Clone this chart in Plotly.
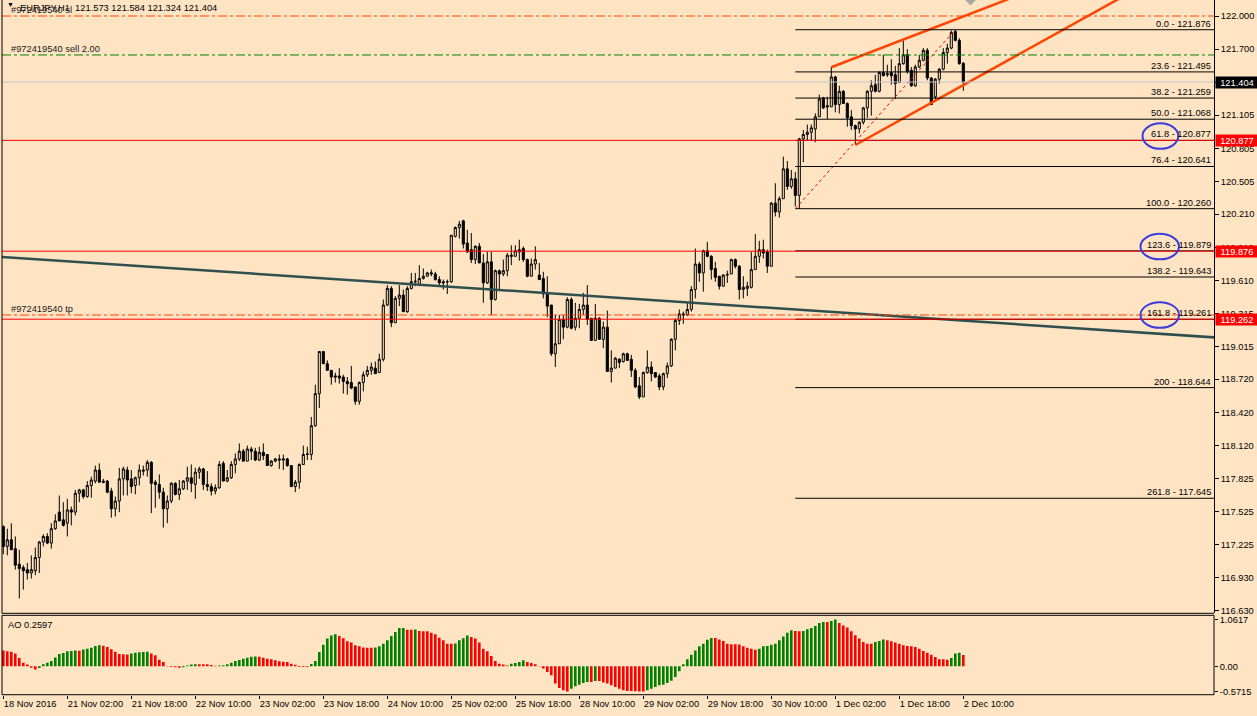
import plotly.graph_objects as go

BG = "#FFE4C4"

# ---------------- data (EURJPY H1, bar index 0..240) ----------------
opens = [
    117.39, 117.21, 117.27, 117.19, 117.05, 117.02, 117.00, 116.97, 116.99, 117.11,
    117.25, 117.30, 117.24, 117.37, 117.52, 117.45, 117.42, 117.54, 117.52, 117.69,
    117.72, 117.66, 117.76, 117.80, 117.90, 117.80, 117.80, 117.71, 117.55, 117.62,
    117.82, 117.90, 117.82, 117.76, 117.83, 117.90, 117.90, 117.97, 117.79, 117.77,
    117.70, 117.55, 117.62, 117.78, 117.68, 117.73, 117.80, 117.83, 117.77, 117.88,
    117.91, 117.77, 117.75, 117.71, 117.74, 117.96, 117.80, 117.83, 117.95, 118.00,
    118.07, 117.98, 118.09, 118.07, 117.99, 118.06, 118.04, 117.94, 117.98, 118.00,
    117.99, 118.00, 117.94, 117.75, 117.79, 117.95, 118.04, 118.04, 118.30, 118.59,
    118.97, 118.86, 118.80, 118.75, 118.75, 118.74, 118.70, 118.69, 118.65, 118.52,
    118.69, 118.76, 118.80, 118.82, 118.78, 118.90, 119.39, 119.54, 119.23, 119.45,
    119.48, 119.33, 119.54, 119.60, 119.57, 119.63, 119.65, 119.67, 119.67, 119.62,
    119.60, 119.60, 119.60, 120.01, 120.09, 120.15, 119.95, 119.89, 119.80, 119.92,
    119.77, 119.59, 119.78, 119.44, 119.70, 119.67, 119.70, 119.84, 119.83, 119.87,
    119.90, 119.80, 119.65, 119.76, 119.66, 119.63, 119.50, 119.39, 118.95, 119.04,
    119.26, 119.19, 119.44, 119.19, 119.27, 119.35, 119.39, 119.27, 119.07, 119.27,
    119.08, 119.19, 118.79, 118.82, 118.90, 118.88, 118.95, 118.90, 118.80, 118.66,
    118.56, 118.78, 118.83, 118.78, 118.75, 118.65, 118.77, 118.84, 119.08, 119.25,
    119.31, 119.30, 119.35, 119.53, 119.76, 119.68, 119.88, 119.83, 119.72, 119.65,
    119.56, 119.66, 119.67, 119.80, 119.74, 119.53, 119.54, 119.55, 119.71, 119.83,
    119.89, 119.87, 119.74, 120.31, 120.23, 120.35, 120.62, 120.46, 120.53, 120.38,
    120.89, 120.93, 120.95, 120.98, 121.09, 121.26, 121.19, 121.18, 121.45, 121.20,
    121.32, 121.21, 121.09, 121.01, 120.98, 121.04, 121.17, 121.32, 121.38, 121.32,
    121.49, 121.47, 121.49, 121.47, 121.40, 121.57, 121.65, 121.51, 121.37, 121.54,
    121.60, 121.69, 121.44, 121.27, 121.43, 121.52, 121.67, 121.71, 121.86, 121.78,
    121.573,
]
highs = [
    117.40, 117.37, 117.42, 117.30, 117.18, 117.04, 117.06, 117.13, 117.20, 117.26,
    117.32, 117.33, 117.42, 117.50, 117.67, 117.61, 117.64, 117.57, 117.72, 117.73,
    117.73, 117.80, 117.84, 117.94, 117.96, 117.82, 117.81, 117.74, 117.66, 117.92,
    117.93, 117.93, 117.90, 117.84, 117.95, 117.94, 117.99, 117.98, 117.81, 117.86,
    117.74, 117.67, 117.79, 117.79, 117.81, 117.81, 117.93, 117.95, 117.92, 117.93,
    117.92, 117.89, 117.78, 117.77, 117.98, 117.98, 117.90, 117.98, 118.05, 118.14,
    118.09, 118.12, 118.11, 118.10, 118.11, 118.14, 118.04, 117.99, 118.01, 118.04,
    118.04, 118.01, 117.94, 117.81, 117.96, 118.12, 118.11, 118.38, 118.67, 118.97,
    118.97, 118.89, 118.80, 118.78, 118.82, 118.76, 118.74, 118.84, 118.65, 118.70,
    118.79, 118.84, 118.87, 118.88, 118.95, 119.44, 119.57, 119.56, 119.47, 119.57,
    119.53, 119.56, 119.68, 119.68, 119.75, 119.72, 119.69, 119.71, 119.69, 119.65,
    119.62, 119.62, 120.02, 120.10, 120.15, 120.16, 120.07, 120.04, 119.93, 119.95,
    119.85, 119.87, 119.87, 119.71, 119.71, 119.80, 119.86, 119.93, 119.93, 119.98,
    119.92, 119.81, 119.81, 119.92, 119.77, 119.69, 119.65, 119.39, 119.30, 119.30,
    119.30, 119.46, 119.46, 119.41, 119.40, 119.50, 119.57, 119.27, 119.40, 119.28,
    119.24, 119.34, 118.98, 118.92, 118.91, 118.96, 118.96, 118.94, 118.82, 118.74,
    118.79, 118.98, 118.88, 118.78, 118.77, 118.78, 118.87, 119.09, 119.27, 119.35,
    119.33, 119.41, 119.56, 119.90, 119.78, 119.89, 119.96, 119.84, 119.78, 119.65,
    119.67, 119.70, 119.81, 119.81, 119.75, 119.65, 119.60, 119.87, 120.03, 119.97,
    119.98, 119.89, 120.32, 120.49, 120.37, 120.73, 120.69, 120.61, 120.59, 120.90,
    120.97, 121.02, 121.02, 121.12, 121.29, 121.27, 121.27, 121.54, 121.46, 121.37,
    121.33, 121.22, 121.15, 121.02, 121.05, 121.18, 121.33, 121.42, 121.47, 121.50,
    121.65, 121.56, 121.61, 121.55, 121.71, 121.78, 121.70, 121.54, 121.56, 121.65,
    121.71, 121.71, 121.45, 121.44, 121.53, 121.71, 121.75, 121.87, 121.876, 121.80,
    121.584,
]
lows = [
    117.14, 117.13, 117.18, 117.00, 116.74, 116.82, 116.91, 116.92, 116.95, 116.97,
    117.21, 117.23, 117.19, 117.36, 117.44, 117.39, 117.30, 117.40, 117.49, 117.61,
    117.64, 117.65, 117.65, 117.78, 117.79, 117.78, 117.69, 117.47, 117.48, 117.52,
    117.67, 117.67, 117.69, 117.68, 117.76, 117.85, 117.84, 117.51, 117.56, 117.64,
    117.38, 117.42, 117.60, 117.67, 117.63, 117.72, 117.72, 117.70, 117.64, 117.82,
    117.72, 117.71, 117.67, 117.68, 117.73, 117.80, 117.79, 117.82, 117.87, 117.98,
    117.98, 117.98, 117.99, 117.98, 117.98, 117.99, 117.94, 117.93, 117.97, 117.91,
    117.90, 117.93, 117.75, 117.70, 117.73, 117.95, 117.99, 117.99, 118.29, 118.46,
    118.86, 118.80, 118.67, 118.69, 118.68, 118.59, 118.58, 118.63, 118.49, 118.49,
    118.61, 118.74, 118.76, 118.77, 118.78, 118.88, 119.38, 119.19, 119.23, 119.38,
    119.33, 119.32, 119.53, 119.56, 119.56, 119.62, 119.65, 119.65, 119.61, 119.56,
    119.53, 119.49, 119.59, 120.00, 119.99, 119.90, 119.86, 119.77, 119.76, 119.77,
    119.41, 119.58, 119.30, 119.43, 119.53, 119.65, 119.65, 119.75, 119.83, 119.79,
    119.78, 119.64, 119.65, 119.71, 119.62, 119.45, 119.28, 118.93, 118.83, 119.04,
    119.08, 119.18, 119.17, 119.16, 119.18, 119.30, 119.21, 119.07, 119.07, 119.08,
    119.00, 118.79, 118.69, 118.82, 118.82, 118.87, 118.89, 118.74, 118.64, 118.54,
    118.56, 118.77, 118.70, 118.73, 118.62, 118.62, 118.73, 118.83, 118.98, 119.21,
    119.22, 119.29, 119.33, 119.45, 119.60, 119.51, 119.82, 119.62, 119.60, 119.53,
    119.56, 119.59, 119.67, 119.72, 119.44, 119.45, 119.47, 119.54, 119.71, 119.77,
    119.81, 119.68, 119.74, 120.19, 120.18, 120.35, 120.43, 120.44, 120.28, 120.26,
    120.68, 120.88, 120.87, 120.86, 121.09, 121.16, 121.07, 121.18, 121.13, 121.12,
    121.21, 121.00, 120.97, 120.84, 120.94, 121.02, 121.08, 121.10, 121.31, 121.31,
    121.46, 121.45, 121.38, 121.25, 121.40, 121.56, 121.48, 121.36, 121.36, 121.53,
    121.59, 121.42, 121.20, 121.23, 121.39, 121.51, 121.57, 121.70, 121.77, 121.56,
    121.324,
]
closes = [
    117.21, 117.27, 117.18, 117.04, 117.01, 116.99, 116.97, 117.00, 117.11, 117.25,
    117.30, 117.24, 117.37, 117.44, 117.44, 117.40, 117.54, 117.52, 117.69, 117.72,
    117.66, 117.76, 117.81, 117.90, 117.79, 117.79, 117.70, 117.55, 117.62, 117.82,
    117.91, 117.81, 117.75, 117.83, 117.90, 117.89, 117.97, 117.78, 117.77, 117.70,
    117.55, 117.62, 117.78, 117.68, 117.73, 117.80, 117.83, 117.78, 117.88, 117.91,
    117.77, 117.75, 117.71, 117.74, 117.95, 117.80, 117.83, 117.95, 118.00, 118.07,
    117.98, 118.09, 118.07, 117.99, 118.06, 118.03, 117.94, 117.98, 118.00, 117.99,
    118.00, 117.94, 117.75, 117.79, 117.95, 118.04, 118.045, 118.30, 118.59, 118.97,
    118.86, 118.80, 118.74, 118.74, 118.73, 118.70, 118.68, 118.64, 118.52, 118.69,
    118.76, 118.80, 118.83, 118.77, 118.90, 119.39, 119.54, 119.23, 119.45, 119.48,
    119.33, 119.54, 119.60, 119.605, 119.63, 119.65, 119.68, 119.68, 119.62, 119.59,
    119.59, 119.60, 120.02, 120.09, 120.12, 119.94, 119.87, 119.80, 119.92, 119.77,
    119.59, 119.78, 119.44, 119.70, 119.67, 119.70, 119.84, 119.83, 119.88, 119.89,
    119.80, 119.65, 119.76, 119.80, 119.62, 119.49, 119.38, 118.95, 119.04, 119.26,
    119.19, 119.44, 119.18, 119.27, 119.35, 119.39, 119.26, 119.07, 119.27, 119.08,
    119.19, 118.79, 118.82, 118.91, 118.87, 118.95, 118.89, 118.80, 118.65, 118.56,
    118.78, 118.83, 118.77, 118.74, 118.65, 118.77, 118.84, 119.08, 119.25, 119.31,
    119.30, 119.35, 119.53, 119.76, 119.68, 119.88, 119.83, 119.71, 119.64, 119.56,
    119.66, 119.665, 119.80, 119.74, 119.53, 119.55, 119.56, 119.71, 119.83, 119.89,
    119.86, 119.74, 120.31, 120.23, 120.35, 120.62, 120.46, 120.53, 120.38, 120.89,
    120.93, 120.95, 120.99, 121.09, 121.25, 121.17, 121.18, 121.45, 121.20, 121.32,
    121.21, 121.08, 121.01, 120.98, 121.04, 121.17, 121.32, 121.37, 121.32, 121.49,
    121.46, 121.48, 121.46, 121.39, 121.57, 121.65, 121.50, 121.37, 121.54, 121.60,
    121.69, 121.44, 121.20, 121.43, 121.52, 121.67, 121.71, 121.85, 121.78, 121.57,
    121.404,
]
# Awesome Oscillator values
ao = [
    0.36, 0.34, 0.33, 0.29, 0.19, 0.08, 0.04, -0.03, -0.07, -0.04,
    0.05, 0.08, 0.12, 0.20, 0.28, 0.30, 0.34, 0.35, 0.36, 0.355,
    0.38, 0.40, 0.42, 0.46, 0.48, 0.47, 0.44, 0.39, 0.33, 0.28,
    0.275, 0.27, 0.29, 0.31, 0.32, 0.325, 0.33, 0.29, 0.25, 0.15,
    0.10, -0.005, -0.015, -0.02, -0.03, -0.02, 0.02, 0.04, 0.05, 0.049,
    0.048, 0.046, 0.03, 0.015, 0.02, 0.025, 0.045, 0.083, 0.12, 0.144,
    0.174, 0.197, 0.22, 0.222, 0.218, 0.197, 0.174, 0.159, 0.136, 0.114,
    0.106, 0.098, 0.06, 0.038, -0.015, -0.016, -0.017, 0.053, 0.12, 0.326,
    0.49, 0.63, 0.70, 0.727, 0.69, 0.64, 0.57, 0.54, 0.48, 0.455,
    0.425, 0.424, 0.423, 0.426, 0.455, 0.51, 0.59, 0.69, 0.78, 0.87,
    0.872, 0.833, 0.832, 0.835, 0.80, 0.799, 0.798, 0.765, 0.727, 0.65,
    0.59, 0.515, 0.513, 0.516, 0.59, 0.64, 0.70, 0.667, 0.63, 0.54,
    0.40, 0.34, 0.235, 0.12, 0.06, 0.04, 0.02, 0.06, 0.076, 0.10,
    0.136, 0.10, 0.076, 0.045, 0.008, -0.05, -0.13, -0.20, -0.39, -0.49,
    -0.545, -0.5715, -0.51, -0.45, -0.42, -0.38, -0.356, -0.358, -0.333, -0.334,
    -0.37, -0.39, -0.43, -0.47, -0.51, -0.545, -0.56, -0.561, -0.565, -0.57,
    -0.571, -0.545, -0.51, -0.47, -0.43, -0.42, -0.38, -0.33, -0.24, -0.11,
    0.05, 0.16, 0.265, 0.36, 0.455, 0.515, 0.606, 0.644, 0.643, 0.61,
    0.575, 0.515, 0.50, 0.499, 0.498, 0.455, 0.424, 0.40, 0.379, 0.40,
    0.455, 0.46, 0.49, 0.515, 0.59, 0.68, 0.765, 0.82, 0.80, 0.799,
    0.801, 0.84, 0.87, 0.917, 0.985, 1.008, 1.007, 1.03, 1.0617, 0.985,
    0.93, 0.88, 0.795, 0.705, 0.63, 0.553, 0.515, 0.514, 0.553, 0.575,
    0.61, 0.59, 0.57, 0.54, 0.515, 0.477, 0.46, 0.455, 0.44, 0.40,
    0.35, 0.31, 0.265, 0.21, 0.16, 0.159, 0.15, 0.19, 0.29, 0.31,
    0.2597,
]

time_labels = ["18 Nov 2016", "21 Nov 02:00", "21 Nov 18:00", "22 Nov 10:00", "23 Nov 02:00",
               "23 Nov 18:00", "24 Nov 10:00", "25 Nov 02:00", "25 Nov 18:00", "28 Nov 10:00",
               "29 Nov 02:00", "29 Nov 18:00", "30 Nov 10:00", "1 Dec 02:00", "1 Dec 18:00",
               "2 Dec 10:00"]
time_label_bars = [0, 16, 32, 48, 64, 80, 96, 112, 128, 144, 160, 176, 192, 208, 224, 240]

price_ticks = [122.000, 121.700, 121.400, 121.105, 120.805, 120.505, 120.210, 119.910, 119.610,
               119.315, 119.015, 118.720, 118.420, 118.120, 117.825, 117.525, 117.225, 116.930, 116.630]
ao_ticks = [1.0617, 0.0, -0.5715]
ao_tick_text = ["1.0617", "0.00", "-0.5715"]

fib_ratios = ["0.0", "23.6", "38.2", "50.0", "61.8", "76.4", "100.0", "123.6", "138.2", "161.8", "200", "261.8"]
fib_prices = [121.876, 121.495, 121.259, 121.068, 120.877, 120.641, 120.260, 119.879, 119.643, 119.261, 118.644, 117.645]
fib_circled = ["61.8", "123.6", "161.8"]
fib_anchor_bars = [198, 238]
fib_anchor_prices = [120.260, 121.876]

red_levels = [120.877, 119.876, 119.262]
bid_price = 121.404
sl_price, sell_price, tp_price = 122.000, 121.648, 119.300

trend_bars, trend_prices = [-1, 303], [119.826, 119.097]
chan_up_bars, chan_up_prices = [207, 238], [121.537, 121.968]
chan_lo_bars, chan_lo_prices = [213, 240], [120.835, 121.376]

title_text = "EURJPY,H1  121.573 121.584 121.324 121.404"
ao_text = "AO 0.2597"

# ---------------- figure ----------------
X_MIN, X_MAX = -0.325, 302.675
Y_MIN, Y_MAX = 116.606, 122.1445
MAIN_DOM = [0.11755, 1.0]
AO_DOM = [0.0004, 0.11468]
FONT = "Liberation Sans, Arial, sans-serif"
FS = 9.3
DASHDOT = "9px,3px,3px,3px"

n = len(closes)
bars = list(range(n))


def ray(bx, py, x_end):
    slope = (py[1] - py[0]) / (bx[1] - bx[0])
    return [bx[0], x_end], [py[0], py[0] + slope * (x_end - bx[0])]


fig = go.Figure()
fig.add_trace(go.Candlestick(
    x=bars, open=opens, high=highs, low=lows, close=closes,
    increasing=dict(line=dict(color="black", width=1), fillcolor=BG),
    decreasing=dict(line=dict(color="black", width=1), fillcolor="black"),
    whiskerwidth=0, xaxis="x", yaxis="y", hoverinfo="skip", showlegend=False))

# trend line
fig.add_trace(go.Scatter(x=trend_bars, y=trend_prices, mode="lines",
                         line=dict(color="#2F4F4F", width=2.5), yaxis="y", hoverinfo="skip"))
# channel rays
ux, uy = ray(chan_up_bars, chan_up_prices, 320)
lx, ly = ray(chan_lo_bars, chan_lo_prices, 320)
fig.add_trace(go.Scatter(x=ux, y=uy, mode="lines", line=dict(color="#FF4500", width=2.5), yaxis="y", hoverinfo="skip"))
fig.add_trace(go.Scatter(x=lx, y=ly, mode="lines", line=dict(color="#FF4500", width=2.5), yaxis="y", hoverinfo="skip"))
# fibo diagonal
fig.add_trace(go.Scatter(x=fib_anchor_bars, y=fib_anchor_prices, mode="lines",
                         line=dict(color="#FF0000", width=1, dash="dot"), yaxis="y", hoverinfo="skip"))

# AO histogram
ao_colors = ["#FF0000"] + ["#008000" if ao[i] > ao[i - 1] else "#FF0000" for i in range(1, len(ao))]
fig.add_trace(go.Bar(x=bars, y=ao, marker=dict(color=ao_colors, line=dict(width=0)), width=0.66,
                     xaxis="x", yaxis="y2", hoverinfo="skip"))

shapes = []
# fibo levels
for p in fib_prices:
    shapes.append(dict(type="line", xref="x", yref="y", x0=fib_anchor_bars[0], x1=X_MAX, y0=p, y1=p,
                       line=dict(color="black", width=1)))
# horizontal levels
for p in red_levels:
    shapes.append(dict(type="line", xref="paper", yref="y", x0=0, x1=1, y0=p, y1=p,
                       line=dict(color="#FF0000", width=1)))
shapes.append(dict(type="line", xref="paper", yref="y", x0=0, x1=1, y0=bid_price, y1=bid_price,
                   line=dict(color="#BCC4CC", width=1)))
shapes.append(dict(type="line", xref="paper", yref="y", x0=0, x1=1, y0=sl_price, y1=sl_price,
                   line=dict(color="#FF4500", width=1, dash=DASHDOT)))
shapes.append(dict(type="line", xref="paper", yref="y", x0=0, x1=1, y0=sell_price, y1=sell_price,
                   line=dict(color="#008000", width=1, dash=DASHDOT)))
shapes.append(dict(type="line", xref="paper", yref="y", x0=0, x1=1, y0=tp_price, y1=tp_price,
                   line=dict(color="#FF4500", width=1, dash=DASHDOT)))
# ellipses around fib labels
for r, p in zip(fib_ratios, fib_prices):
    if r in fib_circled:
        wide = len(r) > 4
        shapes.append(dict(type="circle", xref="paper", yref="y", xsizemode="pixel", ysizemode="pixel",
                           xanchor=1, yanchor=p,
                           x0=-73.5 if wide else -71.5, x1=-35.0 if wide else -35.7,
                           y0=-8.5, y1=17.0,
                           line=dict(color="#3C3CDC", width=2)))
# chart-shift marker (grey triangle hanging from the top edge)
shapes.append(dict(type="path", xref="x", yref="paper", xsizemode="pixel", ysizemode="pixel",
                   xanchor=bars[-1], yanchor=1, path="M 2.5 0 L 12 0 L 7.25 -5 Z",
                   fillcolor="#A8A8A8", line=dict(color="#A8A8A8", width=1)))
# frames
shapes.append(dict(type="line", xref="paper", yref="paper", x0=0, x1=0, y0=MAIN_DOM[0], y1=1,
                   line=dict(color="black", width=1)))
shapes.append(dict(type="line", xref="paper", yref="paper", x0=0, x1=1, y0=MAIN_DOM[0], y1=MAIN_DOM[0],
                   line=dict(color="black", width=1)))
shapes.append(dict(type="rect", xref="paper", yref="paper", x0=0, x1=1, y0=AO_DOM[0], y1=AO_DOM[1],
                   line=dict(color="black", width=1)))

annotations = []
annotations.append(dict(xref="paper", yref="paper", x=0, y=1, xanchor="left", yanchor="top",
                        xshift=3, yshift=1, text="▼", showarrow=False,
                        font=dict(family=FONT, size=7, color="black")))
annotations.append(dict(xref="paper", yref="paper", x=0, y=1, xanchor="left", yanchor="top",
                        xshift=16, yshift=-1, text=title_text, showarrow=False,
                        font=dict(family=FONT, size=FS, color="black")))
for txt, p in [("#972419540 sl", sl_price), ("#972419540 sell 2.00", sell_price), ("#972419540 tp", tp_price)]:
    annotations.append(dict(xref="paper", yref="y", x=0, y=p, xanchor="left", yanchor="bottom",
                            xshift=7, yshift=-1, text=txt, showarrow=False,
                            font=dict(family=FONT, size=FS, color="#1A1A1A")))
for r, p in zip(fib_ratios, fib_prices):
    annotations.append(dict(xref="paper", yref="y", x=1, y=p, xanchor="right", yanchor="bottom",
                            xshift=-1, yshift=-1, text=f"{r} - {p:.3f}", showarrow=False,
                            font=dict(family=FONT, size=FS, color="black")))
for p, bg in [(bid_price, "black")] + [(p, "#FF0000") for p in red_levels]:
    annotations.append(dict(xref="paper", yref="y", x=1, y=p, xanchor="left", yanchor="middle",
                            xshift=1, text=f"{p:.3f}", showarrow=False, bgcolor=bg,
                            width=42, height=11, borderpad=0, align="center",
                            font=dict(family=FONT, size=FS, color="white")))
annotations.append(dict(xref="paper", yref="paper", x=0, y=AO_DOM[1], xanchor="left", yanchor="top",
                        xshift=4, yshift=-3, text=ao_text, showarrow=False,
                        font=dict(family=FONT, size=FS, color="black")))

fig.update_layout(
    width=1257, height=716,
    margin=dict(l=2, r=43, t=0, b=21, autoexpand=False),
    paper_bgcolor=BG, plot_bgcolor=BG,
    showlegend=False, hovermode=False,
    boxgap=0.25, bargap=0.3,
    font=dict(family=FONT, size=FS, color="black"),
    xaxis=dict(range=[X_MIN, X_MAX], anchor="y2", showgrid=False, zeroline=False, showline=False,
               tickvals=time_label_bars, ticktext=time_labels, ticks="outside", ticklen=3,
               tickcolor="black", tickwidth=1, ticklabelposition="outside right", tickangle=0,
               automargin=False, rangeslider=dict(visible=False), fixedrange=True,
               tickfont=dict(family=FONT, size=FS, color="black")),
    yaxis=dict(domain=MAIN_DOM, range=[Y_MIN, Y_MAX], side="right", anchor="x",
               tickvals=price_ticks, ticktext=[f"{v:.3f}" for v in price_ticks],
               ticks="outside", ticklen=4, tickcolor="black", showgrid=False, zeroline=False,
               showline=True, linecolor="black", linewidth=1, fixedrange=True, automargin=False,
               tickfont=dict(family=FONT, size=FS, color="black")),
    yaxis2=dict(domain=AO_DOM, range=[-0.645, 1.159], side="right", anchor="x",
                tickvals=ao_ticks, ticktext=ao_tick_text, ticks="outside", ticklen=3,
                tickcolor="black", showgrid=False, zeroline=False, showline=False, fixedrange=True,
                automargin=False, tickfont=dict(family=FONT, size=FS, color="black")),
    shapes=shapes, annotations=annotations,
)

fig.write_html("out.html", config={"displayModeBar": False, "staticPlot": True},
               post_script="document.body.style.margin='0';document.body.style.overflow='hidden';")
